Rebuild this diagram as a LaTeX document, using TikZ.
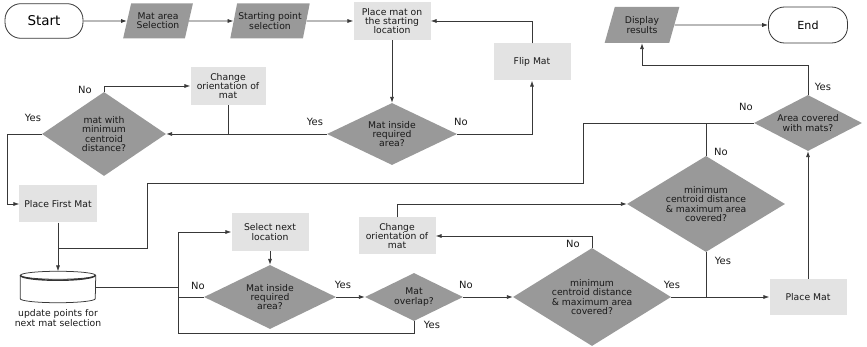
\documentclass[tikz,border=0pt]{standalone}
\usepackage{fontspec}
\setmainfont{DejaVu Sans}
\usetikzlibrary{shapes.geometric, arrows.meta, calc}

\tikzset{
    flowline/.style={draw=black!78, line width=0.65pt},
    flowarrow/.style={flowline, -{Latex[length=5pt,width=3.5pt]}},
    boxtext/.style={font=\fontsize{7.9}{7.9}\selectfont, text=black!90, align=center},
    procbox/.style={boxtext, rectangle, fill=black!11, inner sep=1pt,
        minimum width=2.31cm, minimum height=1.11cm},
    decision/.style={boxtext, diamond, fill=black!40, inner sep=0pt, aspect=1.6},
    iobox/.style={boxtext, trapezium, trapezium left angle=70, trapezium right angle=110,
        trapezium stretches=true, fill=black!40, inner sep=1pt,
        minimum width=2.1cm, minimum height=1.05cm},
    terminal/.style={rectangle, rounded corners=0.48cm, draw=black!78, line width=0.7pt,
        minimum width=2.34cm, minimum height=1.04cm},
    answer/.style={font=\fontsize{8.5}{9}\selectfont, text=black!90, inner sep=1pt}
}

\begin{document}
\begin{tikzpicture}[x=0.03cm, y=-0.03cm]
    \useasboundingbox (0,0) rectangle (867,347);

    \node[terminal, font=\fontsize{11.5}{12}\selectfont] (start) at (44,21) {Start};
    \node[iobox] (area sel) at (158,21) {Mat area\\Selection};
    \node[iobox, minimum width=2.28cm] (point sel) at (270,21) {Starting point\\selection};
    \node[procbox, minimum height=1.14cm] (place start) at (392,21) {Place mat on\\the starting\\location};
    \node[procbox] (flip) at (532,62) {Flip Mat};
    \node[iobox, minimum width=2.25cm, minimum height=1.08cm] (display) at (642,25) {Display\\results};
    \node[terminal, font=\fontsize{9.5}{10}\selectfont, minimum width=2.37cm, minimum height=1.08cm] (end) at (808,25) {End};

    \node[procbox, minimum width=2.25cm, minimum height=1.14cm] (orient top) at (228,86) {Change\\orientation of\\mat};
    \node[decision, minimum width=3.72cm, minimum height=2.52cm] (min dist) at (104,134) {mat with\\minimum\\centroid\\distance?};
    \node[decision, minimum width=3.9cm, minimum height=1.86cm, aspect=2] (inside top) at (392,134) {Mat inside\\required\\area?};
    \node[decision, minimum width=3.24cm, minimum height=1.68cm, aspect=2] (covered) at (808,123) {Area covered\\with mats?};

    \node[procbox] (first mat) at (58,204) {Place First Mat};
    \node[decision, minimum width=4.74cm, minimum height=2.88cm] (best top) at (706,204) {minimum\\centroid distance\\\& maximum area\\covered?};
    \node[procbox] (orient low) at (397,236) {Change\\orientation of\\mat};
    \node[procbox, minimum height=1.14cm] (next loc) at (270,232) {Select next\\location};

    \node[rectangle, minimum width=2.25cm, minimum height=0.93cm] (update) at (58,287) {};
    \node[boxtext] (update txt) at (58,318) {update points for\\next mat selection};
    \node[decision, minimum width=3.96cm, minimum height=1.92cm, aspect=2] (inside low) at (270,297) {Mat inside\\required\\area?};
    \node[decision, minimum width=2.94cm, minimum height=1.44cm, aspect=2] (overlap) at (414,297) {Mat\\overlap?};
    \node[decision, minimum width=4.74cm, minimum height=2.94cm] (best low) at (592,297) {minimum\\centroid distance\\\& maximum area\\covered?};
    \node[procbox, minimum height=1.08cm] (place mat) at (808,297) {Place Mat};

    \draw[flowline, fill=white] ([yshift=-0.12cm]update.north west) -- ([yshift=0.12cm]update.south west)
        arc[start angle=180, end angle=360, x radius=1.125cm, y radius=0.12cm] -- ([yshift=-0.12cm]update.north east);
    \draw[flowline, fill=white] ([yshift=-0.12cm]update.north) ellipse [x radius=1.125cm, y radius=0.12cm];
    \draw[black!80, line width=1.2pt] ([yshift=-0.12cm]update.north west) arc[start angle=180, end angle=360, x radius=1.125cm, y radius=0.15cm];

    \coordinate (left turn) at (7,134);
    \coordinate (no right) at (583,183);
    \coordinate (no left) at (147,248);
    \coordinate (up turn) at (808,65);
    \coordinate (loop top) at (178,287);
    \coordinate (loop low) at (178,333);

    \draw[flowarrow] (start) -- (area sel);
    \draw[flowarrow] (area sel) -- (point sel);
    \draw[flowarrow] (point sel) -- (place start);
    \draw[flowarrow] (place start) -- (inside top);
    \draw[flowarrow] (inside top.west) -- (min dist.east);
    \draw[flowline] (orient top.south) -- (orient top.south |- inside top.west);
    \draw[flowarrow] (inside top.east) -| (flip.south);
    \draw[flowarrow] (flip.north) |- (place start.east);
    \draw[flowarrow] (min dist.north) |- (orient top.west);
    \draw[flowarrow] (min dist.west) -- (left turn) |- (first mat.west);
    \draw[flowarrow] (first mat) -- (update.north);
    \draw[flowline] (covered.west) -| (no right) -| (no left) -- (no left -| first mat.south);
    \draw[flowline] (best top.north) -- (best top.north |- covered.west);
    \draw[flowarrow] (orient low.north) |- (best top.west);
    \draw[flowline] (best top.south) -- (best top.south |- place mat.west);
    \draw[flowarrow] (best low.east) -- (place mat.west);
    \draw[flowarrow] (best low.north) |- (orient low.east);
    \draw[flowarrow] (place mat) -- (covered);
    \draw[flowarrow] (covered.north) -- (up turn) -| (display.south);
    \draw[flowarrow] (display) -- (end);

    \draw[flowline] (update.east) -- (loop top);
    \draw[flowarrow] (loop top) |- (next loc.west);
    \draw[flowline] (loop top) -- (loop low) -| (overlap.south);
    \draw[flowline] (inside low.west) -- (inside low.west -| loop top);
    \draw[flowarrow] (next loc) -- (inside low);
    \draw[flowarrow] (inside low.east) -- (overlap.west);
    \draw[flowarrow] (overlap.east) -- (best low.west);

    \node[answer] (yes a) at (315,122) {Yes};
    \node[answer] (no a) at (461,122) {No};
    \node[answer] (no b) at (85,90) {No};
    \node[answer] (yes b) at (33,118) {Yes};
    \node[answer] (no c) at (746,107) {No};
    \node[answer] (yes c) at (823,87) {Yes};
    \node[answer] (no d) at (721,152) {No};
    \node[answer] (yes d) at (723,261) {Yes};
    \node[answer] (no e) at (573,244) {No};
    \node[answer] (yes e) at (672,285) {Yes};
    \node[answer] (no f) at (198,286) {No};
    \node[answer] (yes f) at (343,285) {Yes};
    \node[answer] (no g) at (466,285) {No};
    \node[answer] (yes g) at (432,325) {Yes};
\end{tikzpicture}
\end{document}
